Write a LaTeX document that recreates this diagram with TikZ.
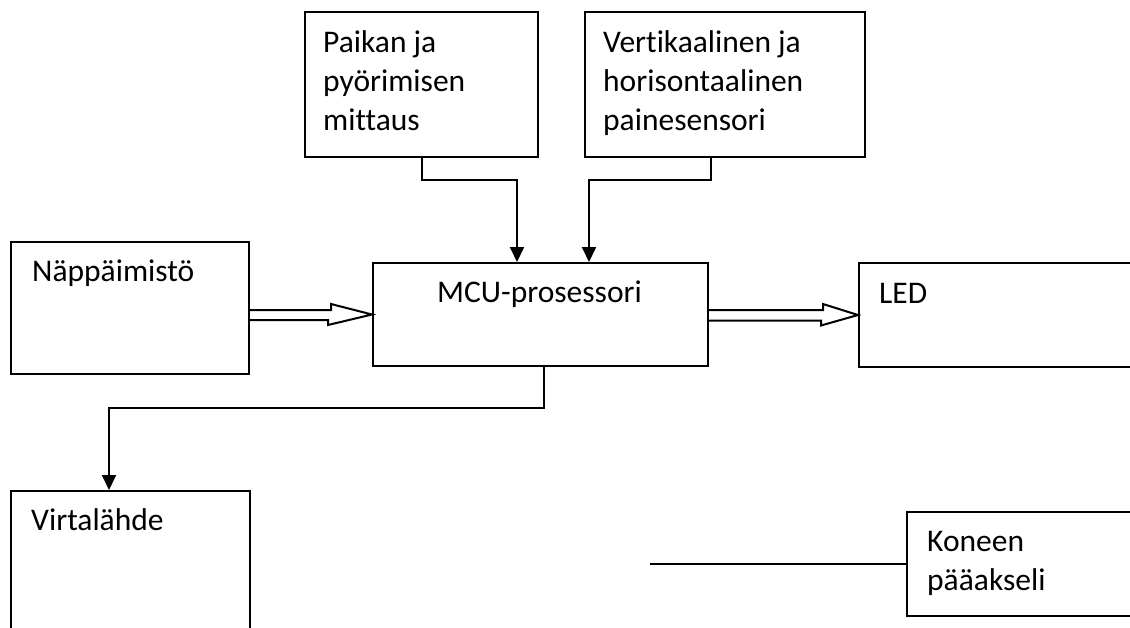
\documentclass[tikz,border=0pt]{standalone}
\usepackage{fontspec}
\setmainfont{Carlito}[Ligatures={NoCommon}]
\usetikzlibrary{arrows.meta,calc}
\begin{document}
\begin{tikzpicture}[x=1pt,y=-1pt,
  box/.style={draw,line width=2pt,inner sep=0pt,anchor=north west},
  txt/.style={inner sep=0pt,anchor=base west,align=left,font=\fontsize{31.5}{39}\selectfont},
  conn/.style={line width=2pt,-{Triangle[width=14pt,length=15pt]}},
  plain/.style={line width=1.4pt},
  dbl/.style={line width=2pt,line join=miter}]
\useasboundingbox (0,0) rectangle (1130,627);
\clip (0,0) rectangle (1130,627);
% boxes
\node[box,minimum width=233pt,minimum height=145pt] (pai) at (304,11) {};
\node[box,minimum width=280pt,minimum height=145pt] (ver) at (584,11) {};
\node[box,minimum width=238pt,minimum height=132pt] (nap) at (10,241) {};
\node[box,minimum width=335pt,minimum height=103pt] (mcu) at (372,262) {};
\node[box,minimum width=290pt,minimum height=104pt] (led) at (858,262) {};
\node[box,minimum width=239pt,minimum height=160pt] (vir) at (10,490) {};
\node[box,minimum width=240pt,minimum height=104pt] (kon) at (906,511) {};
% texts (multi-line nodes: base = last line)
\node[txt] (paiT) at (323,130) {Paikan ja\\pyörimisen\\mittaus};
\node[txt] (verT) at (603,130) {Vertikaalinen ja\\horisontaalinen\\painesensori};
\node[txt] (napT) at (32,281) {Näppäimistö};
\node[txt,anchor=base] (mcuT) at (539.5,302) {MCU-prosessori};
\node[txt] (ledT) at (879,303) {LED};
\node[txt] (virT) at (31,530) {Virtalähde};
\node[txt] (konT) at (927,590) {Koneen\\pääakseli};
% connectors
\draw[conn] (pai.south) |- ++(0,22) -| ([xshift=-23.5pt]mcu.north);
\draw[conn] ([xshift=-14pt]ver.south) |- ++(0,22) -| ([xshift=48.5pt]mcu.north);
\draw[conn] ([xshift=3.5pt]mcu.south) |- ++(0,41) -| ([xshift=-21.5pt]vir.north);
\coordinate (shaftL) at (650,0);
\draw[plain] (shaftL |- kon.west) -- (kon.west);
% double arrows
\draw[dbl] ([yshift=-2pt]nap.east) -- ++(81,0) -- ++(0,-6) -- (mcu.west) -- ++(-44,10.5) -- ++(0,-5) -- ([yshift=-12pt]nap.east);
\draw[dbl] ([yshift=4.5pt]mcu.east) -- ++(114,0) -- ++(0,-6) -- (led.west) -- ++(-37,10.5) -- ++(0,-5) -- ([yshift=-6pt]mcu.east);
\end{tikzpicture}
\end{document}
